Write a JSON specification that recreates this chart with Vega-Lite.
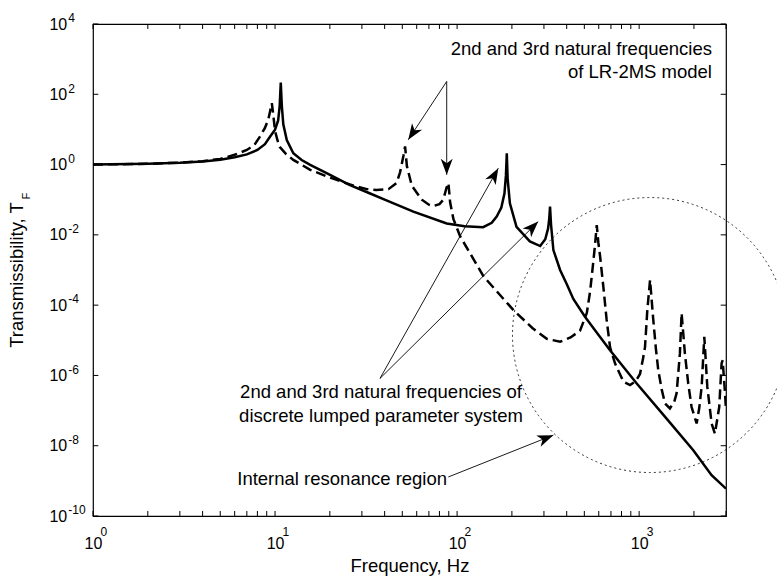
{
  "$schema": "https://vega.github.io/schema/vega-lite/v6.json",
  "width": 633,
  "height": 492,
  "autosize": {"type": "none"},
  "padding": {"left": 93, "top": 24, "right": 51, "bottom": 60},
  "background": "white",
  "config": {
    "view": {"stroke": "black", "strokeWidth": 1.2},
    "font": "Liberation Sans",
    "axis": {
      "domain": false,
      "ticks": false,
      "grid": false,
      "labels": true,
      "labelFont": "Liberation Sans",
      "labelFontSize": 16,
      "labelColor": "black",
      "labelOverlap": false,
      "labelFlush": false,
      "titleFont": "Liberation Sans",
      "titleFontSize": 18.5,
      "titleFontWeight": "normal",
      "titleColor": "black"
    }
  },
  "datasets": {
    "solid": [
      {"f": 1, "T": 1.0}, {"f": 2, "T": 1.05}, {"f": 3, "T": 1.12}, {"f": 4, "T": 1.22}, {"f": 5, "T": 1.38},
      {"f": 6, "T": 1.62}, {"f": 7, "T": 1.95}, {"f": 8, "T": 2.6}, {"f": 8.8, "T": 3.8}, {"f": 9.4, "T": 6.3},
      {"f": 10, "T": 9.8}, {"f": 10.4, "T": 18}, {"f": 10.6, "T": 45}, {"f": 10.75, "T": 217}, {"f": 10.9, "T": 45},
      {"f": 11.1, "T": 14}, {"f": 11.6, "T": 5}, {"f": 12.6, "T": 2.1}, {"f": 14, "T": 1.35}, {"f": 15.6, "T": 0.98},
      {"f": 19.2, "T": 0.57}, {"f": 25.8, "T": 0.26}, {"f": 33.3, "T": 0.15}, {"f": 40, "T": 0.1}, {"f": 57.5, "T": 0.046},
      {"f": 87.7, "T": 0.021}, {"f": 110, "T": 0.0175}, {"f": 139, "T": 0.0165}, {"f": 155, "T": 0.022}, {"f": 165, "T": 0.033},
      {"f": 175, "T": 0.06}, {"f": 182, "T": 0.15}, {"f": 185.5, "T": 0.5}, {"f": 187.5, "T": 2.1}, {"f": 189.5, "T": 0.4},
      {"f": 195, "T": 0.079}, {"f": 212, "T": 0.017}, {"f": 251, "T": 0.0065}, {"f": 286, "T": 0.0048}, {"f": 305, "T": 0.0075},
      {"f": 316, "T": 0.015}, {"f": 321, "T": 0.03}, {"f": 324, "T": 0.064}, {"f": 328, "T": 0.02}, {"f": 338, "T": 0.0037},
      {"f": 368, "T": 0.001}, {"f": 400, "T": 0.0004}, {"f": 435, "T": 0.00015}, {"f": 504, "T": 0.000047}, {"f": 600, "T": 0.000014},
      {"f": 692, "T": 0.0000052}, {"f": 970, "T": 0.00000059}, {"f": 1400, "T": 0.000000063}, {"f": 1983, "T": 0.0000000074},
      {"f": 2500, "T": 0.00000000145}, {"f": 3000, "T": 0.0000000006}
    ],
    "dashed": [
      {"f": 1, "T": 1.0}, {"f": 2, "T": 1.05}, {"f": 3, "T": 1.13}, {"f": 4, "T": 1.25}, {"f": 5, "T": 1.45},
      {"f": 6, "T": 1.9}, {"f": 7, "T": 2.6}, {"f": 7.7, "T": 3.6}, {"f": 8.3, "T": 6.5}, {"f": 8.8, "T": 11},
      {"f": 9.2, "T": 20}, {"f": 9.45, "T": 38}, {"f": 9.6, "T": 56}, {"f": 9.75, "T": 30}, {"f": 10, "T": 9},
      {"f": 10.3, "T": 5}, {"f": 10.6, "T": 3.2}, {"f": 11.5, "T": 2}, {"f": 12.6, "T": 1.36}, {"f": 15.6, "T": 0.71},
      {"f": 19.2, "T": 0.46}, {"f": 25.8, "T": 0.27}, {"f": 31.9, "T": 0.2}, {"f": 36, "T": 0.19}, {"f": 42, "T": 0.2},
      {"f": 46.5, "T": 0.3}, {"f": 48.6, "T": 0.6}, {"f": 50.7, "T": 1.75}, {"f": 51.8, "T": 3.3}, {"f": 53, "T": 0.9},
      {"f": 56.4, "T": 0.25}, {"f": 64, "T": 0.1}, {"f": 70, "T": 0.072}, {"f": 74, "T": 0.066}, {"f": 80, "T": 0.075},
      {"f": 84, "T": 0.1}, {"f": 87.5, "T": 0.22}, {"f": 89.6, "T": 0.3}, {"f": 91.6, "T": 0.083}, {"f": 95.5, "T": 0.028},
      {"f": 104, "T": 0.009}, {"f": 140, "T": 0.00065}, {"f": 204, "T": 0.000072}, {"f": 260, "T": 0.000022}, {"f": 311, "T": 0.000011},
      {"f": 368, "T": 0.0000091}, {"f": 420, "T": 0.000012}, {"f": 474, "T": 0.000019}, {"f": 516, "T": 0.00006}, {"f": 538, "T": 0.00025},
      {"f": 556, "T": 0.0012}, {"f": 572, "T": 0.005}, {"f": 585, "T": 0.019}, {"f": 597, "T": 0.006}, {"f": 610, "T": 0.0025},
      {"f": 636, "T": 0.00033}, {"f": 663, "T": 0.000038}, {"f": 692, "T": 0.0000064}, {"f": 737, "T": 0.0000022}, {"f": 820, "T": 0.00000066},
      {"f": 891, "T": 0.00000053}, {"f": 960, "T": 0.0000007}, {"f": 1011, "T": 0.0000011}, {"f": 1050, "T": 0.000003}, {"f": 1077, "T": 0.0000064},
      {"f": 1109, "T": 0.000072}, {"f": 1148, "T": 0.00052}, {"f": 1196, "T": 0.000038}, {"f": 1235, "T": 0.000006}, {"f": 1274, "T": 0.0000014},
      {"f": 1330, "T": 0.0000004}, {"f": 1387, "T": 0.00000016}, {"f": 1476, "T": 0.000000115}, {"f": 1560, "T": 0.00000018}, {"f": 1606, "T": 0.00000031},
      {"f": 1675, "T": 0.0000043}, {"f": 1711, "T": 0.000059}, {"f": 1783, "T": 0.0000043}, {"f": 1860, "T": 0.0000006}, {"f": 1941, "T": 0.000000126},
      {"f": 2069, "T": 0.000000043}, {"f": 2140, "T": 0.00000012}, {"f": 2205, "T": 0.00000048}, {"f": 2280, "T": 0.0000126}, {"f": 2368, "T": 0.00000048},
      {"f": 2501, "T": 0.000000043}, {"f": 2607, "T": 0.000000022}, {"f": 2754, "T": 0.000000126}, {"f": 2837, "T": 0.0000022}, {"f": 2875, "T": 0.0000027},
      {"f": 2964, "T": 0.00000031}, {"f": 3000, "T": 0.0000001}
    ],
    "arrows": [
      {"x1": 87.7, "y1": 232, "x2": 53.9, "y2": 5.06},
      {"x1": 87.7, "y1": 232, "x2": 87.7, "y2": 0.51},
      {"x1": 37.7, "y1": 0.00000082, "x2": 168.4, "y2": 0.789},
      {"x1": 37.7, "y1": 0.00000082, "x2": 279, "y2": 0.0238},
      {"x1": 89.5, "y1": 0.00000000129, "x2": 337.7, "y2": 0.00000002}
    ],
    "xticks": [
      {"v": 1}, {"v": 2}, {"v": 3}, {"v": 4}, {"v": 5}, {"v": 6}, {"v": 7}, {"v": 8}, {"v": 9},
      {"v": 10}, {"v": 20}, {"v": 30}, {"v": 40}, {"v": 50}, {"v": 60}, {"v": 70}, {"v": 80}, {"v": 90},
      {"v": 100}, {"v": 200}, {"v": 300}, {"v": 400}, {"v": 500}, {"v": 600}, {"v": 700}, {"v": 800}, {"v": 900},
      {"v": 1000}, {"v": 2000}, {"v": 3000}
    ],
    "yticks": [
      {"v": 1e-10}, {"v": 1e-8}, {"v": 1e-6}, {"v": 1e-4}, {"v": 1e-2}, {"v": 1}, {"v": 100}, {"v": 10000}
    ],
    "xexp": [
      {"v": 1, "e": "0"}, {"v": 10, "e": "1"}, {"v": 100, "e": "2"}, {"v": 1000, "e": "3"}
    ],
    "yexp": [
      {"v": 10000, "e": "4"}, {"v": 100, "e": "2"}, {"v": 1, "e": "0"}, {"v": 0.01, "e": "-2"},
      {"v": 0.0001, "e": "-4"}, {"v": 0.000001, "e": "-6"}, {"v": 0.00000001, "e": "-8"}, {"v": 0.0000000001, "e": "-10"}
    ]
  },
  "layer": [
    {
      "data": {"name": "solid"},
      "mark": {"type": "line", "color": "black", "strokeWidth": 2.5, "clip": true},
      "encoding": {
        "x": {"field": "f", "type": "quantitative",
          "scale": {"type": "log", "domain": [1, 3000]},
          "axis": {"orient": "bottom", "title": "Frequency, Hz", "titlePadding": 5, "labelPadding": 19, "labelDx": -2.5,
            "values": [1, 10, 100, 1000],
            "labelExpr": "'10'"}},
        "y": {"field": "T", "type": "quantitative",
          "scale": {"type": "log", "domain": [1e-10, 10000]},
          "axis": {"orient": "left", "title": null, "labelPadding": 26.3, "labelAlign": "right", "labelDy": 1,
            "values": [1e-10, 1e-8, 1e-6, 1e-4, 1e-2, 1, 100, 10000],
            "labelExpr": "'10'"}}
      }
    },
    {
      "data": {"name": "dashed"},
      "mark": {"type": "line", "color": "black", "strokeWidth": 2.5, "strokeDash": [10, 5], "clip": true},
      "encoding": {
        "x": {"field": "f", "type": "quantitative", "scale": {"type": "log", "domain": [1, 3000]}, "axis": null},
        "y": {"field": "T", "type": "quantitative", "scale": {"type": "log", "domain": [1e-10, 10000]}, "axis": null}
      }
    },
    {
      "data": {"name": "xticks"},
      "mark": {"type": "rule", "color": "black", "strokeWidth": 1, "opacity": 1},
      "encoding": {
        "x": {"field": "v", "type": "quantitative", "scale": {"type": "log", "domain": [1, 3000]}, "axis": null},
        "y": {"datum": 1e-10, "type": "quantitative", "scale": {"type": "log", "domain": [1e-10, 10000]}, "axis": null},
        "y2": {"datum": 1.39e-10}
      }
    },
    {
      "data": {"name": "xticks"},
      "mark": {"type": "rule", "color": "black", "strokeWidth": 1, "opacity": 1},
      "encoding": {
        "x": {"field": "v", "type": "quantitative", "scale": {"type": "log", "domain": [1, 3000]}, "axis": null},
        "y": {"datum": 10000, "type": "quantitative", "scale": {"type": "log", "domain": [1e-10, 10000]}, "axis": null},
        "y2": {"datum": 7200}
      }
    },
    {
      "data": {"name": "yticks"},
      "mark": {"type": "rule", "color": "black", "strokeWidth": 1, "opacity": 1},
      "encoding": {
        "y": {"field": "v", "type": "quantitative", "scale": {"type": "log", "domain": [1e-10, 10000]}, "axis": null},
        "x": {"datum": 1, "type": "quantitative", "scale": {"type": "log", "domain": [1, 3000]}, "axis": null},
        "x2": {"datum": 1.07}
      }
    },
    {
      "data": {"name": "yticks"},
      "mark": {"type": "rule", "color": "black", "strokeWidth": 1, "opacity": 1},
      "encoding": {
        "y": {"field": "v", "type": "quantitative", "scale": {"type": "log", "domain": [1e-10, 10000]}, "axis": null},
        "x": {"datum": 3000, "type": "quantitative", "scale": {"type": "log", "domain": [1, 3000]}, "axis": null},
        "x2": {"datum": 2805}
      }
    },
    {
      "data": {"name": "xexp"},
      "mark": {"type": "text", "align": "left", "baseline": "alphabetic", "fontSize": 12, "font": "Liberation Sans", "color": "black", "dx": 7.5, "dy": 20.2},
      "encoding": {
        "x": {"field": "v", "type": "quantitative", "scale": {"type": "log", "domain": [1, 3000]}, "axis": null},
        "y": {"datum": 1e-10, "type": "quantitative", "scale": {"type": "log", "domain": [1e-10, 10000]}, "axis": null},
        "text": {"field": "e"}
      }
    },
    {
      "data": {"name": "yexp"},
      "mark": {"type": "text", "align": "left", "baseline": "alphabetic", "fontSize": 12, "font": "Liberation Sans", "color": "black", "dx": -24.7, "dy": -1.7},
      "encoding": {
        "y": {"field": "v", "type": "quantitative", "scale": {"type": "log", "domain": [1e-10, 10000]}, "axis": null},
        "x": {"datum": 1, "type": "quantitative", "scale": {"type": "log", "domain": [1, 3000]}, "axis": null},
        "text": {"field": "e"}
      }
    },
    {
      "data": {"values": [{"fc": 1147, "Tc": 0.0000141}]},
      "mark": {"type": "point", "shape": "circle", "size": 75625, "filled": false, "color": "black", "strokeWidth": 0.8, "strokeDash": [2, 3], "opacity": 1},
      "encoding": {
        "x": {"field": "fc", "type": "quantitative", "scale": {"type": "log", "domain": [1, 3000]}, "axis": null},
        "y": {"field": "Tc", "type": "quantitative", "scale": {"type": "log", "domain": [1e-10, 10000]}, "axis": null}
      }
    },
    {
      "data": {"name": "arrows"},
      "mark": {"type": "rule", "color": "black", "strokeWidth": 0.9},
      "encoding": {
        "x": {"field": "x1", "type": "quantitative", "scale": {"type": "log", "domain": [1, 3000]}, "axis": null},
        "y": {"field": "y1", "type": "quantitative", "scale": {"type": "log", "domain": [1e-10, 10000]}, "axis": null},
        "x2": {"field": "x2"},
        "y2": {"field": "y2"}
      }
    },
    {
      "data": {"name": "arrows"},
      "transform": [
        {"calculate": "atan2(182.05 * (log(datum.x2) - log(datum.x1)), 35.1 * (log(datum.y2) - log(datum.y1))) * 180 / PI", "as": "heading"}
      ],
      "mark": {"type": "point", "shape": "M0,0L-0.75,2L0,1.45L0.75,2Z", "size": 256, "filled": true, "color": "black", "opacity": 1, "strokeWidth": 0},
      "encoding": {
        "x": {"field": "x2", "type": "quantitative", "scale": {"type": "log", "domain": [1, 3000]}, "axis": null},
        "y": {"field": "y2", "type": "quantitative", "scale": {"type": "log", "domain": [1e-10, 10000]}, "axis": null},
        "angle": {"field": "heading", "type": "quantitative", "scale": null}
      }
    },
    {
      "data": {"values": [
        {"note": "2nd and 3rd natural frequencies", "nx": 2512, "ny": 1334},
        {"note": "of LR-2MS model", "nx": 2512, "ny": 290}
      ]},
      "mark": {"type": "text", "align": "right", "baseline": "alphabetic", "fontSize": 18.5, "font": "Liberation Sans", "color": "black"},
      "encoding": {
        "x": {"field": "nx", "type": "quantitative", "scale": {"type": "log", "domain": [1, 3000]}, "axis": null},
        "y": {"field": "ny", "type": "quantitative", "scale": {"type": "log", "domain": [1e-10, 10000]}, "axis": null},
        "text": {"field": "note"}
      }
    },
    {
      "data": {"values": [
        {"note": "2nd and 3rd natural frequencies of", "nx": 38.2, "ny": 0.000000225},
        {"note": "discrete lumped parameter system", "nx": 38.2, "ny": 0.000000048}
      ]},
      "mark": {"type": "text", "align": "center", "baseline": "alphabetic", "fontSize": 18.5, "font": "Liberation Sans", "color": "black"},
      "encoding": {
        "x": {"field": "nx", "type": "quantitative", "scale": {"type": "log", "domain": [1, 3000]}, "axis": null},
        "y": {"field": "ny", "type": "quantitative", "scale": {"type": "log", "domain": [1e-10, 10000]}, "axis": null},
        "text": {"field": "note"}
      }
    },
    {
      "data": {"values": [
        {"note": "Internal resonance region", "nx": 6.2, "ny": 0.00000000075}
      ]},
      "mark": {"type": "text", "align": "left", "baseline": "alphabetic", "fontSize": 18.5, "font": "Liberation Sans", "color": "black"},
      "encoding": {
        "x": {"field": "nx", "type": "quantitative", "scale": {"type": "log", "domain": [1, 3000]}, "axis": null},
        "y": {"field": "ny", "type": "quantitative", "scale": {"type": "log", "domain": [1e-10, 10000]}, "axis": null},
        "text": {"field": "note"}
      }
    },
    {
      "data": {"values": [{"note": "Transmissibility, T", "nx": 0.415, "ny": 0.00072}]},
      "mark": {"type": "text", "align": "center", "baseline": "alphabetic", "angle": 270, "fontSize": 18.5, "font": "Liberation Sans", "color": "black"},
      "encoding": {
        "x": {"field": "nx", "type": "quantitative", "scale": {"type": "log", "domain": [1, 3000]}, "axis": null},
        "y": {"field": "ny", "type": "quantitative", "scale": {"type": "log", "domain": [1e-10, 10000]}, "axis": null},
        "text": {"field": "note"}
      }
    },
    {
      "data": {"values": [{"note": "F", "nx": 0.451, "ny": 0.102}]},
      "mark": {"type": "text", "align": "left", "baseline": "alphabetic", "angle": 270, "fontSize": 11, "font": "Liberation Sans", "color": "black"},
      "encoding": {
        "x": {"field": "nx", "type": "quantitative", "scale": {"type": "log", "domain": [1, 3000]}, "axis": null},
        "y": {"field": "ny", "type": "quantitative", "scale": {"type": "log", "domain": [1e-10, 10000]}, "axis": null},
        "text": {"field": "note"}
      }
    }
  ],
  "resolve": {"axis": {"x": "independent", "y": "independent"}}
}
